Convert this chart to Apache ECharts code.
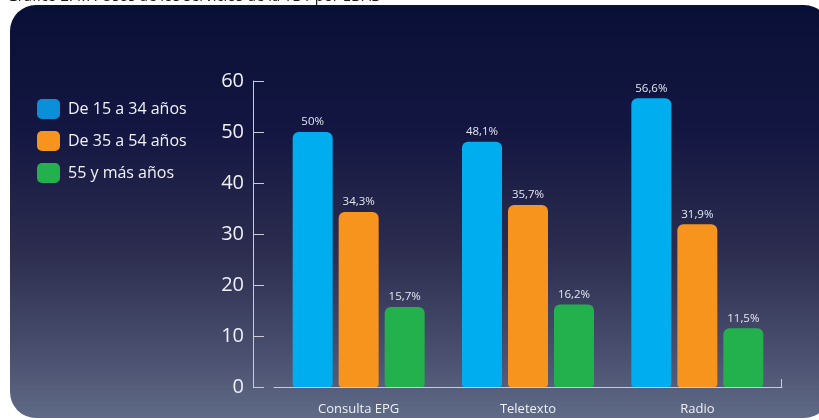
<!DOCTYPE html>
<html>
<head>
<meta charset="utf-8">
<script src="https://cdn.jsdelivr.net/npm/echarts@6/dist/echarts.min.js"></script>
<style>
html,body{margin:0;padding:0;background:#ffffff;}
#chart{width:819px;height:420px;}
</style>
</head>
<body>
<div id="chart"></div>
<script>
var categories = ['Consulta EPG', 'Teletexto', 'Radio'];
var seriesNames = ['De 15 a 34 años', 'De 35 a 54 años', '55 y más años'];
var joven = [50, 48.1, 56.6];
var medio = [34.3, 35.7, 31.9];
var mayor = [15.7, 16.2, 11.5];
var yTicks = [0, 10, 20, 30, 40, 50, 60];
var titleText = 'Gráfico 2.4.7. Usos de los servicios de la TDT por EDAD';

var FONT = '"Open Sans", "Noto Sans", sans-serif';
var barColors = ['#00aeef', '#f7941e', '#22b14c'];
var legendColors = ['#0b8fd8', '#f7941e', '#22b14c'];

function fmt(v) { return String(v).replace('.', ',') + '%'; }

var chart = echarts.init(document.getElementById('chart'), null, {renderer: 'canvas'});

function mkSeries(name, data, i) {
  return {
    name: name,
    type: 'bar',
    data: data,
    barWidth: 40,
    barGap: '15%',
    itemStyle: {color: barColors[i], borderRadius: [6, 6, 3, 3]},
    label: {
      show: true, position: 'top', distance: 4,
      formatter: function (p) { return fmt(p.value); },
      color: '#e4e6ee', fontSize: 11.5, fontFamily: FONT
    }
  };
}

chart.setOption({
  backgroundColor: 'transparent',
  animation: false,
  graphic: [
    {
      type: 'text', left: 7, top: -11, z: -2,
      style: {text: titleText, fontSize: 14.8, fontFamily: FONT, fill: '#1a1a1a'}
    },
    {
      type: 'rect', z: -1, silent: true,
      shape: {x: 10, y: 5, width: 820, height: 413, r: 26},
      style: {
        fill: new echarts.graphic.LinearGradient(0, 0, 0, 1, [
          {offset: 0, color: '#091036'},
          {offset: 0.3, color: '#131641'},
          {offset: 0.6, color: '#2c2d4f'},
          {offset: 0.85, color: '#4b5070'},
          {offset: 1, color: '#5f6b86'}
        ])
      }
    },
    {
      type: 'line', z: 5, silent: true,
      shape: {x1: 781.5, y1: 379, x2: 781.5, y2: 387},
      style: {stroke: '#c9ccd6', lineWidth: 1}
    }
  ],
  legend: {
    left: 32, top: 94, orient: 'vertical',
    itemWidth: 23, itemHeight: 20, itemGap: 12,
    icon: 'roundRect',
    textStyle: {color: '#f2f3f7', fontSize: 16, fontFamily: FONT, padding: [0, 0, 0, 3]},
    data: seriesNames.map(function (n, i) {
      return {name: n, itemStyle: {color: legendColors[i]}};
    })
  },
  grid: {left: 274, right: 37, top: 81, bottom: 33, containLabel: false},
  xAxis: {
    type: 'category',
    data: categories,
    axisLine: {show: true, lineStyle: {color: '#c9ccd6', width: 1}},
    axisTick: {show: false},
    axisLabel: {color: '#eef0f5', fontSize: 13, fontFamily: FONT, margin: 16}
  },
  yAxis: {
    type: 'value',
    min: yTicks[0], max: yTicks[yTicks.length - 1], interval: 10,
    offset: 21,
    axisLine: {show: true, lineStyle: {color: '#c9ccd6', width: 1}},
    axisTick: {show: true, inside: true, length: 11, lineStyle: {color: '#c9ccd6'}},
    splitLine: {show: false},
    axisLabel: {color: '#eef0f5', fontSize: 20, fontFamily: FONT, margin: 9}
  },
  series: [
    mkSeries(seriesNames[0], joven, 0),
    mkSeries(seriesNames[1], medio, 1),
    mkSeries(seriesNames[2], mayor, 2)
  ]
});
</script>
</body>
</html>
